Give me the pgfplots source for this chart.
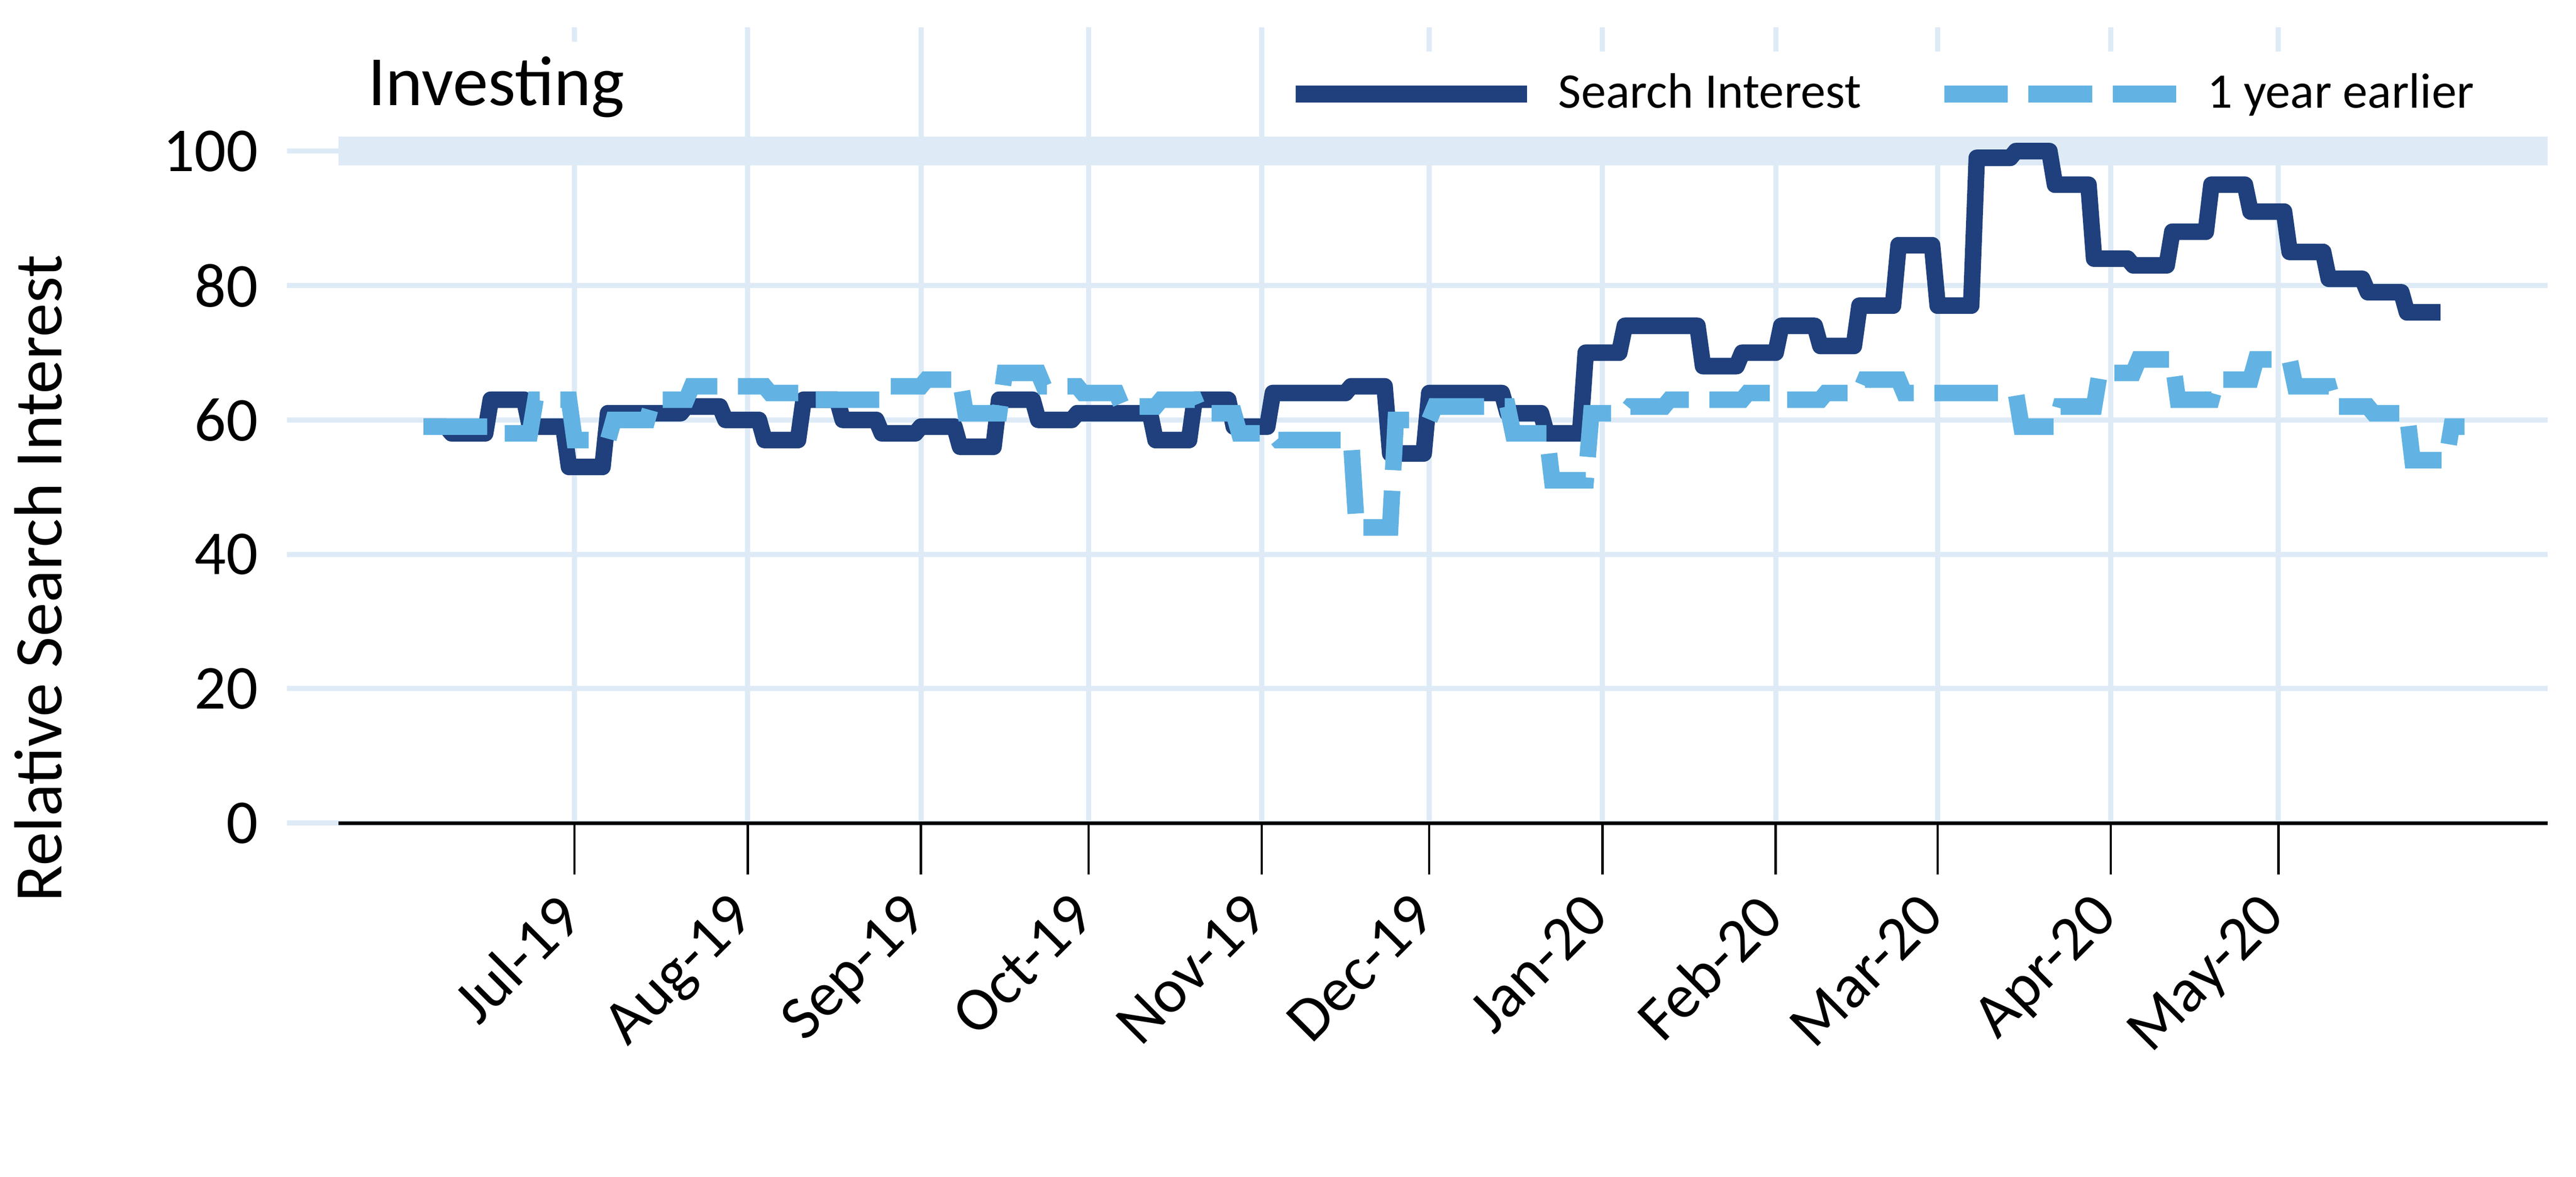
\documentclass[border=0pt]{standalone}
\usepackage{fontspec}
\setmainfont{Carlito}
\usepackage{pgfplots}
\pgfplotsset{compat=1.18}
\definecolor{gridc}{RGB}{222,235,247}
\definecolor{darkc}{RGB}{31,64,124}
\definecolor{lightc}{RGB}{98,179,227}
\begin{document}
\begin{tikzpicture}
\useasboundingbox (0,0) rectangle (20cm,9.1351cm);
\begin{axis}[
  at={(2.6262cm,2.7462cm)}, anchor=south west,
  scale only axis, width=17.154cm, height=6.1757cm,
  xmin=-42.3, xmax=353.2, ymin=0, ymax=118.4,
  axis x line*=bottom, axis y line*=left,
  x axis line style={black, line width=0.8pt},
  y axis line style={draw=none},
  xtick={0,31,62,92,123,153,184,215,244,275,305},
  xticklabels={Jul-19,Aug-19,Sep-19,Oct-19,Nov-19,Dec-19,Jan-20,Feb-20,Mar-20,Apr-20,May-20},
  ytick={0,20,40,60,80,100},
  tick align=outside,
  major tick length=0.4cm,
  xtick style={black, line width=0.5pt},
  ytick style={gridc, line width=1.14pt},
  xmajorgrids, ymajorgrids,
  major grid style={gridc, line width=1.14pt},
  /pgf/number format/assume math mode=true,
  yticklabel style={font=\fontsize{13.8}{16}\selectfont, xshift=-0.1cm},
  xticklabel style={font=\fontsize{13.8}{16}\selectfont, xshift=-0.16cm, yshift=-0.11cm, rotate=45, anchor=north east, inner sep=0pt},
  ylabel={Relative Search Interest},
  ylabel style={font=\fontsize{15}{18}\selectfont, at={(axis description cs:-0.1253,0.3076)}, anchor=base},
  legend columns=2,
  legend cell align=left,
  legend style={at={(axis description cs:0.4233,0.9163)}, anchor=west, draw=none, fill=white,
    inner xsep=0.1cm, inner ysep=0.1cm, font=\fontsize{11}{13}\selectfont,
    /tikz/every odd column/.append style={column sep=0.107cm},
    /tikz/every even column/.append style={column sep=0.512cm}},
  legend image code/.code={\draw[#1] (0cm,0cm) -- (1.799cm,0cm);},
]
\addplot[gridc, line width=6.35pt, forget plot] coordinates {(-42.3,100) (353.2,100)};
\addplot[darkc, line width=3.65pt, line join=round] coordinates {
(-27,59) (-23,59) (-22,58) (-16,58) (-15,63) (-9,63) (-8,59) (-2,59)
(-1,53) (5,53) (6,61) (12,61) (13,61) (19,61) (20,62) (26,62)
(27,60) (33,60) (34,57) (40,57) (41,63) (47,63) (48,60) (54,60)
(55,58) (61,58) (62,59) (68,59) (69,56) (75,56) (76,63) (82,63)
(83,60) (89,60) (90,61) (96,61) (97,61) (103,61) (104,57) (110,57)
(111,63) (117,63) (118,59) (124,59) (125,64) (131,64) (132,64) (138,64)
(139,65) (145,65) (146,55) (152,55) (153,64) (159,64) (160,64) (166,64)
(167,61) (173,61) (174,58) (180,58) (181,70) (187,70) (188,74) (194,74)
(195,74) (201,74) (202,68) (208,68) (209,70) (215,70) (216,74) (222,74)
(223,71) (229,71) (230,77) (236,77) (237,86) (243,86) (244,77) (250,77)
(251,99) (257,99) (258,100) (264,100) (265,95) (271,95) (272,84) (278,84)
(279,83) (285,83) (286,88) (292,88) (293,95) (299,95) (300,91) (306,91)
(307,85) (313,85) (314,81) (320,81) (321,79) (327,79) (328,76) (334,76)
};
\addlegendentry{Search Interest}
\addplot[lightc, line width=3.65pt, dash pattern=on 14.03pt off 4.55pt] coordinates {
(-27,59) (-22,59) (-21,59) (-15,59) (-14,58) (-8,58) (-7,63) (-1,63)
(0,57) (6,57) (7,60) (13,60) (14,63) (20,63) (21,65) (27,65)
(28,65) (34,65) (35,64) (41,64) (42,63) (48,63) (49,63) (55,63)
(56,65) (62,65) (63,66) (69,66) (70,61) (76,61) (77,67) (83,67)
(84,65) (90,65) (91,64) (97,64) (98,62) (104,62) (105,63) (111,63)
(112,61) (118,61) (119,58) (125,58) (126,57) (132,57) (133,57) (139,57)
(140,44) (146,44) (147,60) (153,60) (154,62) (160,62) (161,62) (167,62)
(168,58) (174,58) (175,51) (181,51) (182,61) (188,61) (189,62) (195,62)
(196,63) (202,63) (203,63) (209,63) (210,64) (216,64) (217,63) (223,63)
(224,64) (230,64) (231,66) (237,66) (238,64) (244,64) (245,64) (251,64)
(252,64) (258,64) (259,59) (265,59) (266,62) (272,62) (273,67) (279,67)
(280,69) (286,69) (287,63) (293,63) (294,66) (300,66) (301,69) (307,69)
(308,65) (314,65) (315,62) (321,62) (322,61) (328,61) (329,54) (335,54)
(336,59) (338.3,59)
};
\addlegendentry{1 year earlier}
\node[anchor=base west, fill=white, inner xsep=0.15cm, inner ysep=0pt, text height=14.03pt, text depth=6.9pt, font=\fontsize{15.6}{18}\selectfont] at (axis description cs:0.0043,0.9023) {Investing};
\end{axis}
\end{tikzpicture}
\end{document}
